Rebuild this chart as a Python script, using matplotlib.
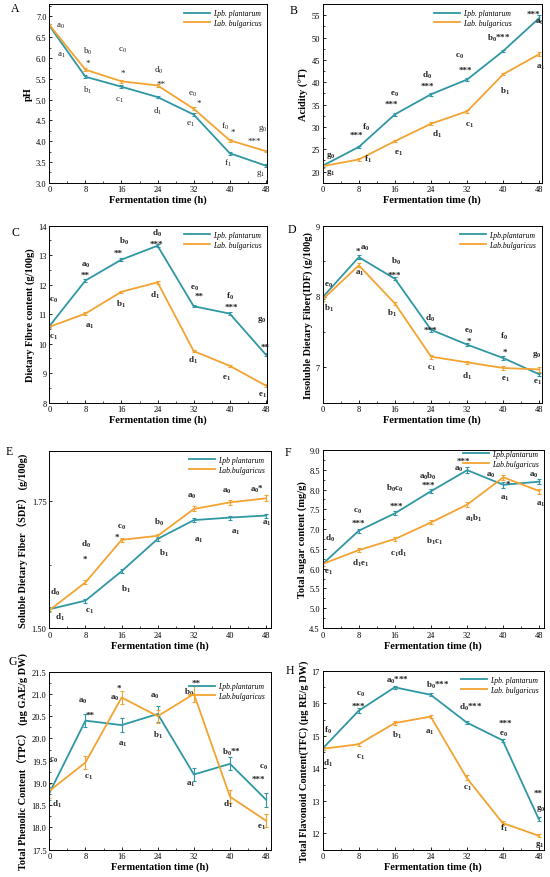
import matplotlib
matplotlib.use('Agg')
import matplotlib.pyplot as plt
from matplotlib.lines import Line2D
from matplotlib.ticker import MultipleLocator, FormatStrFormatter

plt.rcParams['font.family'] = ['Liberation Serif', 'Noto Sans CJK SC']
plt.rcParams['mathtext.default'] = 'regular'
plt.rcParams['xtick.direction'] = 'in'
plt.rcParams['ytick.direction'] = 'in'

TEAL = '#2f97a3'
ORANGE = '#f3a330'

hours = [0, 8, 16, 24, 32, 40, 48]

# A - pH
ph_lpb = [6.78, 5.55, 5.31, 5.06, 4.64, 3.71, 3.41]
ph_lab = [6.80, 5.72, 5.44, 5.34, 4.78, 4.02, 3.76]
ph_lpb_err = [0.03, 0.04, 0.03, 0.03, 0.03, 0.04, 0.03]
ph_lab_err = [0.03, 0.04, 0.04, 0.04, 0.03, 0.04, 0.03]

# B - acidity
acid_lpb = [21.3, 25.5, 32.8, 37.3, 40.6, 47.0, 54.4]
acid_lab = [21.2, 22.7, 26.8, 30.7, 33.5, 41.8, 46.3]
acid_lpb_err = [0.3, 0.3, 0.3, 0.3, 0.3, 0.3, 0.6]
acid_lab_err = [0.3, 0.3, 0.3, 0.3, 0.3, 0.3, 0.4]

# C - dietary fibre
fibre_lpb = [10.59, 12.14, 12.85, 13.32, 11.27, 11.02, 9.63]
fibre_lab = [10.57, 11.02, 11.76, 12.08, 9.75, 9.25, 8.58]
fibre_lpb_err = [0.04, 0.04, 0.04, 0.05, 0.04, 0.04, 0.05]
fibre_lab_err = [0.04, 0.04, 0.04, 0.05, 0.04, 0.04, 0.05]

# D - insoluble dietary fiber
idf_lpb = [7.99, 8.555, 8.25, 7.53, 7.32, 7.13, 6.90]
idf_lab = [7.96, 8.44, 7.90, 7.15, 7.07, 6.99, 6.97]
idf_lpb_err = [0.02, 0.03, 0.02, 0.03, 0.02, 0.03, 0.02]
idf_lab_err = [0.02, 0.03, 0.02, 0.03, 0.02, 0.03, 0.03]

# E - soluble dietary fiber
sdf_lpb = [1.537, 1.554, 1.612, 1.676, 1.713, 1.718, 1.722]
sdf_lab = [1.535, 1.590, 1.674, 1.682, 1.735, 1.748, 1.756]
sdf_lpb_err = [0.004, 0.004, 0.004, 0.004, 0.004, 0.004, 0.004]
sdf_lab_err = [0.004, 0.004, 0.004, 0.004, 0.005, 0.005, 0.006]

# F - total sugar
sugar_lpb = [6.12, 6.96, 7.40, 7.96, 8.49, 8.12, 8.20]
sugar_lab = [6.12, 6.47, 6.75, 7.17, 7.62, 8.31, 7.96]
sugar_lpb_err = [0.05, 0.05, 0.05, 0.05, 0.07, 0.07, 0.06]
sugar_lab_err = [0.05, 0.05, 0.05, 0.05, 0.06, 0.07, 0.06]

# G - total phenolic content
tpc_lpb = [18.77, 20.40, 20.30, 20.55, 19.19, 19.43, 18.62]
tpc_lab = [18.82, 19.46, 20.92, 20.50, 21.00, 18.69, 18.15]
tpc_lpb_err = [0.15, 0.15, 0.15, 0.18, 0.15, 0.15, 0.15]
tpc_lab_err = [0.15, 0.15, 0.15, 0.15, 0.18, 0.15, 0.15]

# H - total flavonoid content
tfc_lpb = [14.61, 15.77, 16.49, 16.26, 15.41, 14.86, 12.45]
tfc_lab = [14.60, 14.74, 15.39, 15.59, 13.71, 12.32, 11.93]
tfc_lpb_err = [0.05, 0.07, 0.05, 0.05, 0.05, 0.05, 0.07]
tfc_lab_err = [0.05, 0.05, 0.05, 0.05, 0.07, 0.05, 0.05]

# significance letters / stars  (x, y, text)
notes_a = [(2.4, 6.78, 'a$_0$'), (2.7, 6.08, 'a$_1$'),
           (8.6, 6.19, 'b$_0$'), (8.6, 5.96, '*'), (8.4, 5.24, 'b$_1$'),
           (16.3, 6.2, 'c$_0$'), (16.3, 5.7, '*'), (15.5, 5.0, 'c$_1$'),
           (24.3, 5.72, 'd$_0$'), (24.8, 5.45, '**'), (24.1, 4.74, 'd$_1$'),
           (31.8, 5.16, 'e$_0$'), (33.1, 4.98, '*'), (31.4, 4.43, 'e$_1$'),
           (39.0, 4.37, 'f$_0$'), (40.7, 4.30, '*'), (39.5, 3.49, 'f$_1$'),
           (47.3, 4.33, 'g$_0$'), (45.4, 4.07, '***'), (46.9, 3.25, 'g$_1$')]
notes_b = [(1.85, 23.75, 'g$_0$'), (1.85, 20.0, 'g$_1$'),
           (7.5, 28.9, '***'), (9.6, 30.2, 'f$_0$'), (10.1, 23.0, 'f$_1$'),
           (16.0, 37.5, 'e$_0$'), (15.3, 35.7, '***'), (16.8, 24.2, 'e$_1$'),
           (23.0, 41.8, 'd$_0$'), (23.2, 39.75, '***'), (25.3, 28.5, 'd$_1$'),
           (30.4, 46.0, 'c$_0$'), (31.5, 43.4, '***'), (32.6, 30.5, 'c$_1$'),
           (38.9, 50.0, 'b$_0$***'), (40.4, 38.25, 'b$_1$'),
           (46.6, 56.0, '***'), (48.0, 53.5, 'a$_0$'), (48.2, 43.5, 'a$_1$')]
notes_c = [(0.9, 11.49, 'c$_0$'), (0.9, 10.25, 'c$_1$'),
           (8.1, 12.7, 'a$_0$'), (7.9, 12.42, '**'), (8.9, 10.63, 'a$_1$'),
           (16.6, 13.49, 'b$_0$'), (15.3, 13.18, '**'), (16.0, 11.38, 'b$_1$'),
           (23.8, 13.77, 'd$_0$'), (23.8, 13.49, '***'), (23.4, 11.68, 'd$_1$'),
           (32.2, 11.91, 'e$_0$'), (33.3, 11.72, '**'), (31.9, 9.48, 'd$_1$'),
           (40.1, 11.64, 'f$_0$'), (40.4, 11.36, '***'), (39.3, 8.86, 'e$_1$'),
           (47.1, 10.84, 'g$_0$'), (47.8, 9.99, '**'), (47.3, 8.29, 'e$_1$')]
notes_d = [(1.3, 8.17, 'e$_0$'), (1.4, 7.84, 'b$_1$'),
           (7.9, 8.68, '*'), (9.2, 8.70, 'a$_0$'), (8.3, 8.34, 'a$_1$'),
           (16.2, 8.51, 'b$_0$'), (15.9, 8.35, '***'), (15.3, 7.77, 'b$_1$'),
           (23.8, 7.71, 'd$_0$'), (23.8, 7.57, '***'), (24.2, 7.0, 'c$_1$'),
           (32.3, 7.52, 'e$_0$'), (32.3, 7.41, '*'), (31.9, 6.89, 'd$_1$'),
           (40.2, 7.45, 'f$_0$'), (40.4, 7.26, '*'), (40.4, 6.85, 'e$_1$'),
           (47.3, 7.20, 'g$_0$'), (47.6, 6.80, 'e$_1$')]
notes_e = [(1.3, 1.572, 'd$_0$'), (2.4, 1.522, 'd$_1$'),
           (8.1, 1.667, 'd$_0$'), (7.9, 1.643, '*'), (9.0, 1.534, 'c$_1$'),
           (16.0, 1.700, 'c$_0$'), (14.9, 1.686, '*'), (17.0, 1.579, 'b$_1$'),
           (24.2, 1.711, 'b$_0$'), (25.4, 1.649, 'b$_1$'),
           (31.6, 1.761, 'a$_0$'), (33.0, 1.674, 'a$_1$'),
           (39.3, 1.771, 'a$_0$'), (41.2, 1.691, 'a$_1$'),
           (46.0, 1.776, 'a$_0$*'), (48.1, 1.708, 'a$_1$')]
notes_f = [(1.6, 6.79, 'd$_0$'), (1.3, 5.93, 'e$_1$'),
           (7.8, 7.48, 'c$_0$'), (8.0, 7.23, '***'), (8.5, 6.16, 'd$_1$e$_1$'),
           (15.9, 8.06, 'b$_0$c$_0$'), (16.4, 7.65, '***'), (16.8, 6.41, 'c$_1$d$_1$'),
           (23.4, 8.35, 'a$_0$b$_0$'), (23.4, 8.18, '***'), (24.7, 6.72, 'b$_1$c$_1$'),
           (31.2, 8.80, '***'), (30.1, 8.54, 'a$_0$'), (33.4, 7.30, 'a$_1$b$_1$'),
           (37.3, 8.38, 'a$_0$'), (41.0, 8.22, '*'), (40.2, 7.80, 'a$_1$'),
           (46.7, 8.39, 'a$_0$'), (48.2, 7.65, 'a$_1$')]
notes_g = [(0.9, 19.52, 'c$_0$'), (1.6, 18.54, 'd$_1$'),
           (7.4, 20.85, 'a$_0$'), (9.1, 20.60, '**'), (8.6, 19.15, 'c$_1$'),
           (15.5, 21.20, '*'), (14.5, 20.92, 'a$_0$'), (16.2, 19.89, 'a$_1$'),
           (23.3, 20.96, 'a$_0$'), (24.1, 20.10, 'b$_1$'),
           (32.5, 21.31, '**'), (30.9, 21.06, 'b$_0$'), (31.3, 18.98, 'a$_1$'),
           (40.3, 19.71, 'b$_0$**'), (39.5, 18.53, 'd$_1$'),
           (47.3, 19.37, 'c$_0$'), (46.2, 19.16, '***'), (47.0, 18.02, 'e$_1$')]
notes_h = [(1.25, 15.2, 'f$_0$'), (1.25, 14.17, 'd$_1$'),
           (8.3, 16.31, 'c$_0$'), (7.9, 16.02, '***'), (8.3, 14.38, 'c$_1$'),
           (16.6, 16.72, 'a$_0$***'), (16.5, 15.05, 'b$_1$'),
           (25.6, 16.59, 'b$_0$***'), (23.7, 15.15, 'a$_1$'),
           (32.9, 15.89, 'd$_0$***'), (32.1, 13.4, 'c$_1$'),
           (40.6, 15.47, '***'), (40.2, 15.06, 'e$_0$'), (40.4, 12.19, 'f$_1$'),
           (48.0, 13.32, '**'), (48.4, 12.8, 'g$_0$'), (48.2, 11.7, 'g$_1$')]

W, H = 550, 878
fig = plt.figure(figsize=(5.5, 8.78), dpi=100)


def rect(l, t, r, b):
    return [l / W, 1 - b / H, (r - l) / W, (b - t) / H]


def panel(box, letter, lpos, lpb, lab, lpb_err, lab_err, ylim, ystep, yfmt,
          ylabel, notes, names, xmax, weight='bold', leg_anchor=(1.0, 1.0)):
    ax = fig.add_axes(rect(*box))
    for y, e, c in [(lpb, lpb_err, TEAL), (lab, lab_err, ORANGE)]:
        ax.errorbar(hours, y, yerr=e, color=c, lw=1.3, elinewidth=0.8,
                    capsize=1.6, capthick=0.8)
    ax.set_xlim(0, xmax)
    ax.set_ylim(*ylim)
    ax.xaxis.set_major_locator(MultipleLocator(8))
    ax.xaxis.set_minor_locator(MultipleLocator(4))
    ax.yaxis.set_major_locator(MultipleLocator(ystep))
    ax.yaxis.set_minor_locator(MultipleLocator(ystep / 2))
    ax.yaxis.set_major_formatter(FormatStrFormatter(yfmt))
    ax.tick_params(which='major', length=2.5, width=0.6, labelsize=6, pad=2)
    ax.tick_params(which='minor', length=1.3, width=0.5)
    for s in ax.spines.values():
        s.set_linewidth(0.7)
    ax.set_xlabel('Fermentation time (h)', fontsize=7.5, fontweight='bold', labelpad=1)
    ax.set_ylabel(ylabel, fontsize=7.5, fontweight='bold', labelpad=2)
    for x, y, t in notes:
        dy = -2 if set(t) == {'*'} else 0
        ax.annotate(t, (x, y), xytext=(0, dy), textcoords='offset points',
                    ha='center', va='center', fontsize=6.5, fontweight=weight,
                    color='#222222', annotation_clip=False)
    handles = [Line2D([], [], color=TEAL, lw=1.3), Line2D([], [], color=ORANGE, lw=1.3)]
    ax.legend(handles, names, loc='upper right', bbox_to_anchor=leg_anchor,
              frameon=False, handlelength=3.4, labelspacing=0.2,
              borderaxespad=0.3, handletextpad=0.4,
              prop={'size': 5.5, 'style': 'italic'})
    fig.text(lpos[0] / W, 1 - lpos[1] / H, letter, fontsize=8.5, ha='center', va='center')
    return ax


panel((49.3, 5, 266.7, 183.7), 'A', (15, 9), ph_lpb, ph_lab, ph_lpb_err, ph_lab_err,
      (3.0, 7.3), 0.5, '%.1f', 'pH', notes_a, ['Lpb. plantarum', 'Lab. bulgaricus'],
      48.2, weight='normal')
panel((322.7, 5, 541.7, 183.7), 'B', (294, 11), acid_lpb, acid_lab, acid_lpb_err, acid_lab_err,
      (17.5, 57.5), 5, '%d', 'Acidity (°T)', notes_b, ['Lpb. plantarum', 'Lab. bulgaricus'],
      48.5, leg_anchor=(0.89, 1.0))
panel((49.3, 226.7, 266.7, 403.7), 'C', (15, 233), fibre_lpb, fibre_lab, fibre_lpb_err, fibre_lab_err,
      (8, 14), 1, '%d', 'Dietary Fibre content (g/100g)', notes_c,
      ['Lpb. plantarum', 'Lab. bulgaricus'], 48.2)
panel((322.7, 226.7, 541.7, 403.7), 'D', (292, 230), idf_lpb, idf_lab, idf_lpb_err, idf_lab_err,
      (6.5, 9), 1, '%d', 'Insoluble Dietary Fiber(IDF) (g/100g)', notes_d,
      ['Lpb.plantarum', 'Lab.bulgaricus'], 48.5)
panel((49.3, 451.7, 270.7, 629), 'E', (9, 452), sdf_lpb, sdf_lab, sdf_lpb_err, sdf_lab_err,
      (1.5, 1.85), 0.25, '%.2f', 'Soluble Dietary Fiber（SDF） (g/100g)', notes_e,
      ['Lpb plantarum', 'Lab.bulgaricus'], 49)
panel((322.7, 451, 544, 629), 'F', (288, 453), sugar_lpb, sugar_lab, sugar_lpb_err, sugar_lab_err,
      (4.5, 9.0), 0.5, '%.1f', 'Total sugar content (mg/g)', notes_f,
      ['Lpb.plantarum', 'Lab.bulgaricus'], 49, leg_anchor=(1.0, 1.03))
panel((49.3, 672.7, 270.7, 850.7), 'G', (13, 662), tpc_lpb, tpc_lab, tpc_lpb_err, tpc_lab_err,
      (17.5, 21.5), 0.5, '%.1f', 'Total Phenolic Content（TPC） (μg GAE/g DW)', notes_g,
      ['Lpb.plantarum', 'Lab.bulgaricus'], 49, leg_anchor=(1.0, 0.97))
panel((322.7, 671.7, 544, 850.7), 'H', (290, 671), tfc_lpb, tfc_lab, tfc_lpb_err, tfc_lab_err,
      (11.5, 17), 1, '%d', 'Total Flavonoid Content(TFC) (μg RE/g DW)', notes_h,
      ['Lpb. plantarum', 'Lab. bulgaricus'], 49.2)

fig.savefig('out.png', dpi=100)
